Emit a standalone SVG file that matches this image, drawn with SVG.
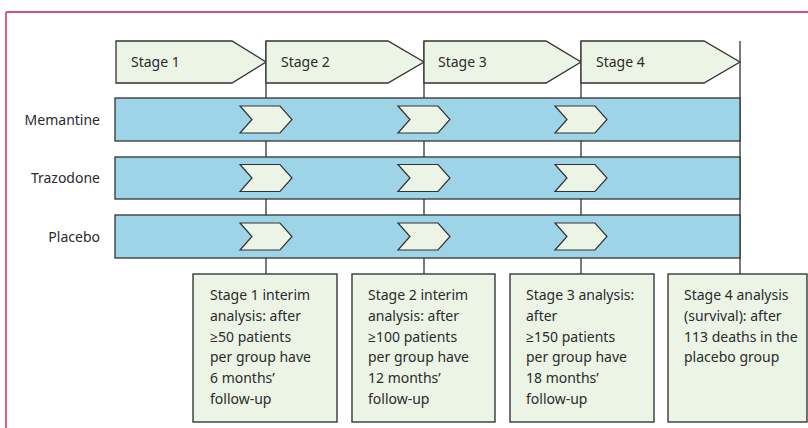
<svg xmlns="http://www.w3.org/2000/svg" width="808" height="428" viewBox="0 0 808 428">
<style>
.stage{fill:#ecf4e6;stroke:#333;stroke-width:1.3}
.bar{fill:#9dd4e8;stroke:#333;stroke-width:1.3}
.chev{fill:#ecf4e6;stroke:#333;stroke-width:1.2}
.box{fill:#ecf4e6;stroke:#444;stroke-width:1.5}
.line{stroke:#333;stroke-width:1.3;fill:none}
text{font-family:"Noto Sans","Open Sans",sans-serif;font-size:14px;fill:#2b2b2b}
.lbl{text-anchor:end}
</style>
<defs>
<polygon id="chev" class="chev" points="-26,-13.5 14,-13.5 26,0 14,13.5 -26,13.5 -14,0"/>
</defs>
<g id="frame">
<line x1="6" y1="12" x2="808" y2="12" stroke="#c8174a" stroke-width="1.5"/>
<line x1="6" y1="12" x2="6" y2="428" stroke="#e05a86" stroke-width="2"/>
</g>
<g id="connectors">
<line class="line" x1="266" y1="41" x2="266" y2="274"/>
<line class="line" x1="424" y1="41" x2="424" y2="274"/>
<line class="line" x1="581" y1="41" x2="581" y2="274"/>
<line class="line" x1="740" y1="41" x2="740" y2="274"/>
</g>
<g id="stage1"><polygon class="stage" points="116,41 232,41 266,62 232,83 116,83"/><text x="131" y="67">Stage 1</text></g>
<g id="stage2"><polygon class="stage" points="266,41 388,41 424,62 388,83 266,83"/><text x="281" y="67">Stage 2</text></g>
<g id="stage3"><polygon class="stage" points="424,41 546,41 581,62 546,83 424,83"/><text x="438" y="67">Stage 3</text></g>
<g id="stage4"><polygon class="stage" points="581,41 704,41 740,62 704,83 581,83"/><text x="596" y="67">Stage 4</text></g>
<g id="memantine">
<text class="lbl" x="100" y="125">Memantine</text>
<rect class="bar" x="115" y="98" width="625" height="43"/>
<use href="#chev" x="266" y="119.5"/><use href="#chev" x="424" y="119.5"/><use href="#chev" x="581" y="119.5"/>
</g>
<g id="trazodone">
<text class="lbl" x="100" y="183">Trazodone</text>
<rect class="bar" x="115" y="157" width="625" height="42"/>
<use href="#chev" x="266" y="178"/><use href="#chev" x="424" y="178"/><use href="#chev" x="581" y="178"/>
</g>
<g id="placebo">
<text class="lbl" x="100" y="242">Placebo</text>
<rect class="bar" x="115" y="215" width="625" height="43"/>
<use href="#chev" x="266" y="236.5"/><use href="#chev" x="424" y="236.5"/><use href="#chev" x="581" y="236.5"/>
</g>
<g id="box1"><rect class="box" x="193" y="274" width="144" height="148"/>
<text x="210" y="300">Stage 1 interim</text><text x="210" y="321">analysis: after</text><text x="210" y="342">≥50 patients</text><text x="210" y="362">per group have</text><text x="210" y="383">6 months’</text><text x="210" y="404">follow-up</text></g>
<g id="box2"><rect class="box" x="352" y="274" width="143" height="148"/>
<text x="368" y="300">Stage 2 interim</text><text x="368" y="321">analysis: after</text><text x="368" y="342">≥100 patients</text><text x="368" y="362">per group have</text><text x="368" y="383">12 months’</text><text x="368" y="404">follow-up</text></g>
<g id="box3"><rect class="box" x="510" y="274" width="144" height="148"/>
<text x="526" y="300">Stage 3 analysis:</text><text x="526" y="321">after</text><text x="526" y="342">≥150 patients</text><text x="526" y="362">per group have</text><text x="526" y="383">18 months’</text><text x="526" y="404">follow-up</text></g>
<g id="box4"><rect class="box" x="668" y="274" width="139" height="148"/>
<text x="684" y="300">Stage 4 analysis</text><text x="684" y="321">(survival): after</text><text x="684" y="342">113 deaths in the</text><text x="684" y="362">placebo group</text></g>
</svg>
